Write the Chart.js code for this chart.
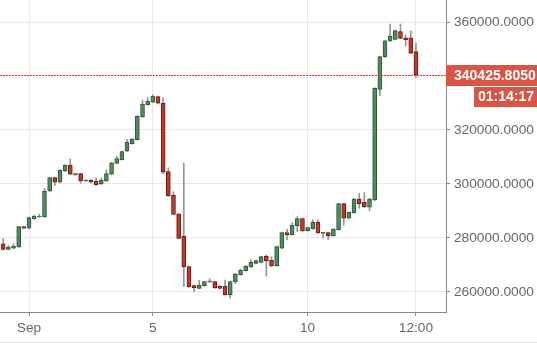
<!DOCTYPE html>
<html>
<head>
<meta charset="utf-8">
<script src="https://cdn.jsdelivr.net/npm/chart.js@4.4.1/dist/chart.umd.min.js"></script>
<style>
  html, body { margin: 0; padding: 0; background: #fff; }
  #wrap { width: 537px; height: 345px; position: relative; }
</style>
</head>
<body>
<div id="wrap"><canvas id="candles"></canvas></div>
<script>
// --- candle data (4h bars) ---
// first bar opens Aug 31 04:00, i.e. -20h from Sep 1 00:00
const firstBarHour = -20;
const barHours = 4;

const opens = [
  277800, 275800, 276200, 276660, 284180, 283590, 287140, 287770, 287770, 297400,
  302330, 300630, 304810, 307030, 303330, 303810, 301100, 301370, 300990, 299990,
  301110, 303590, 307660, 308990, 312220, 314920, 316400, 324810, 329380, 330260,
  332330, 330000, 304550, 295810, 288880, 280620, 269370, 262330, 261360, 262330,
  263700, 263810, 262100, 262220, 258990, 263700, 266420, 267900, 269250, 270620,
  270990, 273210, 271730, 269740, 276180, 281960, 281220, 284550, 287140, 282700,
  283440, 285810, 281710, 281960, 280850, 283080, 292700, 287290, 289360, 294440,
  293220, 291370, 294070, 335070, 347150, 352960, 353590, 356410, 354180, 354180,
  349000
];
const closes = [
  275800, 276660, 277030, 284180, 283590, 287510, 288140, 288140, 297290, 302330,
  300630, 305070, 307030, 303590, 303810, 301110, 301370, 300630, 299730, 301470,
  303810, 307880, 309370, 311960, 315440, 316660, 325070, 329630, 330630, 332590,
  329890, 304330, 295660, 288770, 279880, 269250, 261960, 261470, 262590, 263810,
  263960, 261470, 261360, 258990, 263810, 266660, 268140, 269620, 270990, 271590,
  273070, 271470, 269620, 276780, 281960, 281220, 284700, 287140, 282590, 283810,
  285810, 281850, 281960, 280850, 283330, 292700, 287290, 289510, 294440, 292700,
  291480, 294440, 335440, 347150, 353070, 354810, 356780, 353960, 353440, 348410,
  340425.805
];
const highs = [
  279700, 277300, 277800, 284300, 284300, 287700, 288500, 288900, 298400, 302500,
  302500, 305300, 307200, 309300, 304000, 304000, 301600, 301600, 302200, 302300,
  305200, 308100, 310400, 312200, 316500, 316900, 325300, 331100, 332000, 333000,
  332600, 331960, 306000, 297100, 289100, 307660, 269600, 262600, 264300, 264000,
  264900, 264000, 262300, 264400, 264000, 266900, 268400, 269800, 272000, 271800,
  273300, 273700, 273000, 277000, 282200, 283200, 285700, 287900, 287400, 284000,
  286700, 286700, 282100, 282100, 283500, 292900, 292900, 289700, 294700, 296500,
  296800, 294700, 335700, 347400, 353300, 359260, 357000, 359260, 355200, 356700,
  352100
];
const lows = [
  275500, 275600, 276000, 276500, 283400, 283400, 286900, 287600, 287600, 297200,
  299400, 300400, 304600, 303400, 303200, 300250, 300900, 300400, 299500, 299800,
  300900, 303400, 307500, 308800, 312000, 314700, 316200, 324600, 329200, 330100,
  329700, 303800, 295400, 288500, 279700, 261955, 261700, 260000, 261200, 262100,
  263500, 261300, 261100, 258800, 257700, 263100, 266200, 267700, 269100, 270400,
  270800, 265900, 269400, 269500, 276000, 279300, 281000, 282400, 282400, 282500,
  283300, 281700, 279900, 279400, 280700, 282900, 284700, 287100, 289200, 291000,
  291300, 290100, 293800, 332700, 346900, 352800, 353400, 353800, 351100, 348200,
  339500
];

// x axis ticks, hours from Sep 1 00:00
const xTickHours = [0, 96, 216, 300];
const xTickLabels = ['Sep', '5', '10', '12:00'];
// y axis ticks
const yTicks = [260000, 280000, 300000, 320000, 340000, 360000];

const lastPrice = closes[closes.length - 1];
const countdownText = '01:14:17';

// colours
const upFill = '#4f8a60', upEdge = '#2d5a3b';
const downFill = '#bf3a2c', downEdge = '#6e1b12';
const wickColor = '#959595';
const tagColor = '#dc5544';
const labelFont = '"Liberation Sans", Arial, sans-serif';

const bodyPoints = opens.map((o, i) => ({ x: firstBarHour + i * barHours, y: [o, closes[i]] }));
const wickPoints = lows.map((l, i) => ({ x: firstBarHour + i * barHours, y: [l, highs[i]] }));
const isUp = (i) => closes[i] >= opens[i];

// price line + tags on the right axis
const priceTagPlugin = {
    id: 'priceTag',
    afterDraw(chart) {
        const c = chart.ctx;
        const area = chart.chartArea;
        const yScale = chart.scales.y;
        const py = Math.round(yScale.getPixelForValue(lastPrice)) + 0.5;

        c.save();
        c.strokeStyle = '#ee3322';
        c.lineWidth = 1;
        c.setLineDash([2, 1]);
        c.beginPath();
        c.moveTo(area.left, py);
        c.lineTo(area.right, py);
        c.stroke();
        c.setLineDash([]);

        // price box
        c.fillStyle = tagColor;
        c.fillRect(area.right, py - 10.5, chart.width - area.right, 21);
        c.fillStyle = '#fff';
        c.font = 'bold 14px ' + labelFont;
        c.textBaseline = 'middle';
        c.textAlign = 'left';
        c.fillText(lastPrice.toFixed(4), area.right + 8, py + 1);

        // countdown box
        c.fillStyle = tagColor;
        c.fillRect(chart.width - 63, py + 11.5, 63, 20);
        c.fillStyle = '#fff';
        c.fillText(countdownText, chart.width - 59, py + 22);

        // bottom frame line
        c.fillStyle = '#e6e6e6';
        c.fillRect(0, 342, chart.width, 1);
        c.restore();
    }
};

const ctx = document.getElementById('candles').getContext('2d');

new Chart(ctx, {
    type: 'bar',
    data: {
        datasets: [
            {
                // candle bodies (drawn on top)
                data: bodyPoints,
                grouped: false,
                barThickness: 4,
                minBarLength: 1,
                borderWidth: 1,
                borderSkipped: false,
                backgroundColor: (c) => isUp(c.dataIndex) ? upFill : downFill,
                borderColor: (c) => isUp(c.dataIndex) ? upEdge : downEdge
            },
            {
                // wicks
                data: wickPoints,
                grouped: false,
                barThickness: 1,
                borderWidth: 0,
                backgroundColor: wickColor
            }
        ]
    },
    options: {
        responsive: true,
        maintainAspectRatio: false,
        animation: false,
        layout: { padding: 0 },
        plugins: {
            legend: { display: false },
            tooltip: { enabled: false }
        },
        scales: {
            x: {
                type: 'linear',
                offset: false,
                min: -22.5,
                max: 323.3,
                afterBuildTicks: (scale) => {
                    scale.ticks = xTickHours.map(v => ({ value: v }));
                },
                afterFit: (scale) => {
                    scale.height = 33;
                    scale.paddingLeft = 0;
                    scale.paddingRight = 0;
                },
                ticks: {
                    autoSkip: false,
                    maxRotation: 0,
                    padding: 4,
                    color: '#666',
                    font: { family: labelFont, size: 13.7 },
                    callback: (v) => xTickLabels[xTickHours.indexOf(v)]
                },
                grid: { offset: false, color: '#e8e8e8', tickColor: '#888', tickLength: 4 },
                border: { color: '#888', width: 1 }
            },
            y: {
                position: 'right',
                min: 252580,
                max: 368150,
                afterBuildTicks: (scale) => {
                    scale.ticks = yTicks.map(v => ({ value: v }));
                },
                afterFit: (scale) => {
                    scale.width = 91;
                    scale.paddingTop = 0;
                    scale.paddingBottom = 0;
                },
                ticks: {
                    padding: 4,
                    color: '#666',
                    font: { family: labelFont, size: 13.7 },
                    callback: (v) => v.toFixed(4)
                },
                grid: { color: '#e8e8e8', tickColor: '#888', tickLength: 4 },
                border: { color: '#888', width: 1 }
            }
        }
    },
    plugins: [priceTagPlugin]
});
</script>
</body>
</html>
